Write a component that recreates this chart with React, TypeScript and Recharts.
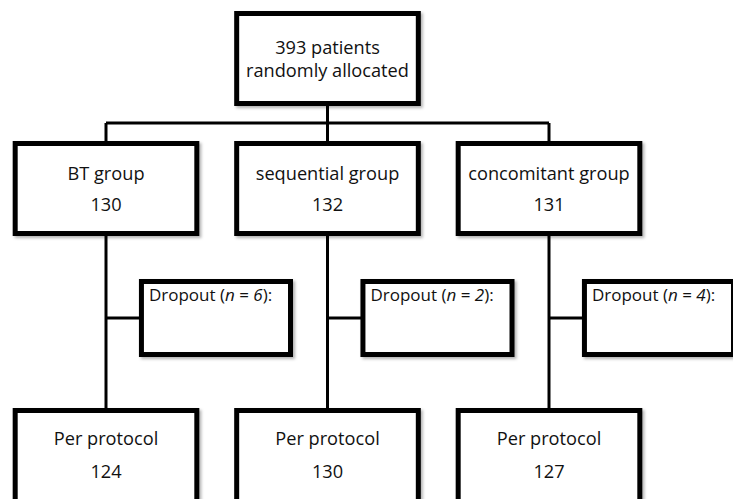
import { ScatterChart, XAxis, YAxis, ReferenceArea, ReferenceLine } from "recharts";

// flow numbers
const allocated = 393;
const groupNames = ["BT group", "sequential group", "concomitant group"];
const groupCounts = [130, 132, 131];
const dropoutCounts = [6, 2, 4];
const perProtocolCounts = [124, 130, 127];

// layout: x in column units (one column per arm), y in depth units from the top
const columns = [0, 1, 2];
const BOX_HALF = 0.41;
const DROP_LEFT = 0.16;
const DROP_RIGHT = 0.833;
const TOP_ROW = [13.5, 103.5];
const GROUP_ROW = [143.5, 233.5];
const DROP_ROW = [281.5, 354.5];
const PP_ROW = [410.5, 510];
const BUS_Y = 123;
const BRANCH_Y = 318;

const FONT = "'Open Sans', 'Noto Sans', sans-serif";
const boxStyle = { filter: "drop-shadow(2px 2px 1.5px rgba(0,0,0,0.3))" };

type TextLine = { text: React.ReactNode; dy: number };

const CenterText = (props: any) => {
  const { viewBox, lines } = props;
  if (!viewBox) return null;
  const cx = viewBox.x + viewBox.width / 2;
  return (
    <g>
      {lines.map((l: TextLine, i: number) => (
        <text
          key={i}
          x={cx}
          y={viewBox.y + l.dy}
          textAnchor="middle"
          dominantBaseline="central"
          fontFamily={FONT}
          fontSize={18.2}
          fill="#111"
        >
          {l.text}
        </text>
      ))}
    </g>
  );
};

const DropoutText = (props: any) => {
  const { viewBox, n } = props;
  if (!viewBox) return null;
  return (
    <text
      x={viewBox.x + 7.5}
      y={viewBox.y + 12.5}
      dominantBaseline="central"
      fontFamily={FONT}
      fontSize={17}
      fill="#111"
      style={{ whiteSpace: "pre" }}
    >
      <tspan>Dropout (</tspan>
      <tspan fontStyle="italic">n</tspan>
      <tspan> = </tspan>
      <tspan fontStyle="italic">{n}</tspan>
      <tspan>):</tspan>
    </text>
  );
};

const line = { stroke: "#000", strokeWidth: 3, ifOverflow: "visible" as const };
const box = {
  stroke: "#000",
  strokeWidth: 5,
  fill: "#fff",
  fillOpacity: 1,
  ifOverflow: "visible" as const,
  style: boxStyle,
};

export default function App() {
  return (
    <div style={{ position: "absolute", left: 0, top: 0, background: "#fff" }}>
      <ScatterChart width={733} height={499} margin={{ top: 0, right: 0, bottom: 0, left: 0 }}>
        <XAxis type="number" dataKey="x" domain={[-106 / 221.5, 627 / 221.5]} allowDataOverflow hide />
        <YAxis type="number" dataKey="y" domain={[0, 499]} reversed allowDataOverflow hide />

        {/* connectors */}
        <ReferenceLine segment={[{ x: 1, y: TOP_ROW[1] }, { x: 1, y: BUS_Y }]} {...line} />
        <ReferenceLine segment={[{ x: columns[0], y: BUS_Y }, { x: columns[2], y: BUS_Y }]} {...line} />
        {columns.map((c) => (
          <ReferenceLine key={"d" + c} segment={[{ x: c, y: BUS_Y }, { x: c, y: GROUP_ROW[0] }]} {...line} />
        ))}
        {columns.map((c) => (
          <ReferenceLine key={"v" + c} segment={[{ x: c, y: GROUP_ROW[1] }, { x: c, y: PP_ROW[0] }]} {...line} />
        ))}
        {columns.map((c) => (
          <ReferenceLine
            key={"b" + c}
            segment={[{ x: c, y: BRANCH_Y }, { x: c + DROP_LEFT, y: BRANCH_Y }]}
            {...line}
          />
        ))}

        {/* boxes */}
        <ReferenceArea
          x1={1 - BOX_HALF}
          x2={1 + BOX_HALF}
          y1={TOP_ROW[0]}
          y2={TOP_ROW[1]}
          {...box}
          label={
            <CenterText
              lines={[
                { text: `${allocated} patients`, dy: 33.5 },
                { text: "randomly allocated", dy: 56.5 },
              ]}
            />
          }
        />
        {columns.map((c) => (
          <ReferenceArea
            key={"g" + c}
            x1={c - BOX_HALF}
            x2={c + BOX_HALF}
            y1={GROUP_ROW[0]}
            y2={GROUP_ROW[1]}
            {...box}
            label={
              <CenterText
                lines={[
                  { text: groupNames[c], dy: 29.5 },
                  { text: String(groupCounts[c]), dy: 60.5 },
                ]}
              />
            }
          />
        ))}
        {columns.map((c) => (
          <ReferenceArea
            key={"o" + c}
            x1={c + DROP_LEFT}
            x2={c + DROP_RIGHT}
            y1={DROP_ROW[0]}
            y2={DROP_ROW[1]}
            {...box}
            label={<DropoutText n={dropoutCounts[c]} />}
          />
        ))}
        {columns.map((c) => (
          <ReferenceArea
            key={"p" + c}
            x1={c - BOX_HALF}
            x2={c + BOX_HALF}
            y1={PP_ROW[0]}
            y2={PP_ROW[1]}
            {...box}
            label={
              <CenterText
                lines={[
                  { text: "Per protocol", dy: 27.5 },
                  { text: String(perProtocolCounts[c]), dy: 60.5 },
                ]}
              />
            }
          />
        ))}
      </ScatterChart>
    </div>
  );
}
